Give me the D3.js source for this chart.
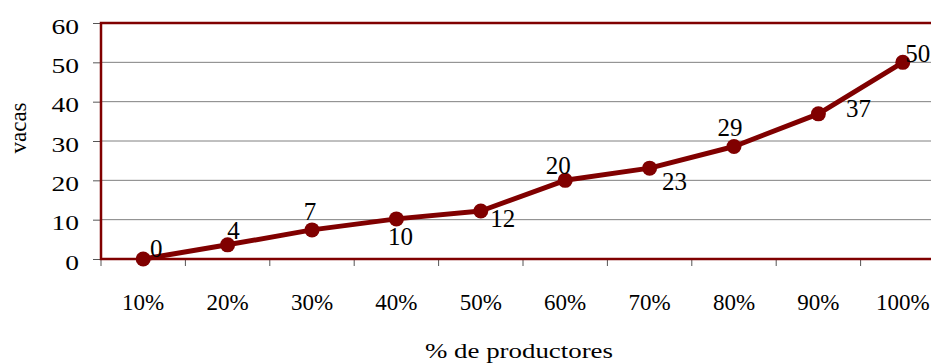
<!DOCTYPE html>
<html>
<head>
<meta charset="utf-8">
<script src="https://cdn.jsdelivr.net/npm/d3@7"></script>
<style>
  html, body { margin: 0; padding: 0; background: #fff; }
  svg { display: block; }
  svg text { font-family: "Liberation Serif", "Times New Roman", serif; fill: #000; }
</style>
</head>
<body>
<svg id="chart" width="931" height="364"></svg>
<script>
// Data
const categories = ["10%", "20%", "30%", "40%", "50%", "60%", "70%", "80%", "90%", "100%"];
const vacas = [0, 3.6, 7.4, 10.2, 12.2, 20, 23.1, 28.6, 36.9, 50];
const labels = ["0", "4", "7", "10", "12", "20", "23", "29", "37", "50"];
const yTicks = [0, 10, 20, 30, 40, 50, 60];
// Label placement (style): offsets of label centre/baseline from point in px
const labelDx = [13, 6, -2, 4, 22, -7, 25, -4, 40, 15];
const labelDy = [-2, -6, -10, 26, 16, -6, 22, -11, 3, 0];

const svg = d3.select("#chart");
const margin = { left: 101, top: 23, right: 945, bottom: 259 };
const maroon = "#800000";
const font = '"Liberation Serif", "Times New Roman", serif';

const x = d3.scaleBand().domain(categories).range([margin.left, margin.right]);
const y = d3.scaleLinear().domain([0, 60]).range([margin.bottom, margin.top]);

// gridlines
svg.append("g").selectAll("line").data(yTicks.filter(d => d > 0 && d < 60)).join("line")
  .attr("x1", margin.left).attr("x2", margin.right)
  .attr("y1", d => y(d)).attr("y2", d => y(d))
  .attr("stroke", "#808080").attr("stroke-width", 1);

// Y axis
const yAxis = svg.append("g").attr("transform", `translate(${margin.left},0)`)
  .call(d3.axisLeft(y).tickValues(yTicks).tickSize(8));
yAxis.attr("font-family", null).attr("font-size", null);
yAxis.select(".domain").remove();
yAxis.selectAll(".tick line").attr("stroke", "#555");
yAxis.selectAll(".tick text")
  .attr("x", 0).attr("dy", 0).attr("y", 10)
  .attr("text-anchor", "end")
  .attr("transform", "translate(-22,0) scale(1.25,1)")
  .style("font-size", "22px").style("font-family", font).attr("fill", "#000");

// X axis
const xAxis = svg.append("g").attr("transform", `translate(0,${margin.bottom})`)
  .call(d3.axisBottom(x).tickSize(0));
xAxis.attr("font-family", null).attr("font-size", null);
xAxis.select(".domain").remove();
xAxis.selectAll(".tick text")
  .attr("y", 51).attr("dy", 0)
  .style("font-size", "23px").style("font-family", font).attr("fill", "#000");
// tick marks at band boundaries
svg.append("g").selectAll("line").data(categories).join("line")
  .attr("x1", d => x(d)).attr("x2", d => x(d))
  .attr("y1", margin.bottom).attr("y2", margin.bottom + 7)
  .attr("stroke", "#555").attr("stroke-width", 1);

// plot border
svg.append("rect")
  .attr("x", margin.left).attr("y", margin.top)
  .attr("width", margin.right - margin.left).attr("height", margin.bottom - margin.top)
  .attr("fill", "none").attr("stroke", maroon).attr("stroke-width", 2.5);

// line
const cx = (d, i) => x(categories[i]) + x.bandwidth() / 2;
svg.append("path").datum(vacas)
  .attr("fill", "none").attr("stroke", maroon).attr("stroke-width", 5)
  .attr("stroke-linejoin", "round")
  .attr("d", d3.line().x((d, i) => cx(d, i)).y(d => y(d)));

svg.append("g").selectAll("circle").data(vacas).join("circle")
  .attr("cx", (d, i) => cx(d, i)).attr("cy", d => y(d)).attr("r", 7.5)
  .attr("fill", maroon);

// data labels
svg.append("g").selectAll("text").data(vacas).join("text")
  .attr("x", (d, i) => cx(d, i) + labelDx[i])
  .attr("y", (d, i) => y(d) + labelDy[i])
  .attr("text-anchor", "middle")
  .style("font-size", "25px").style("font-family", font)
  .text((d, i) => labels[i]);

// axis titles
svg.append("text")
  .attr("transform", `translate(26,128) rotate(-90)`)
  .attr("text-anchor", "middle").style("font-size", "23px").style("font-family", font).text("vacas");
svg.append("text")
  .attr("x", 425).attr("y", 358)
  .attr("textLength", 188).attr("lengthAdjust", "spacingAndGlyphs")
  .style("font-size", "22px").style("font-family", font).text("% de productores");
</script>
</body>
</html>
